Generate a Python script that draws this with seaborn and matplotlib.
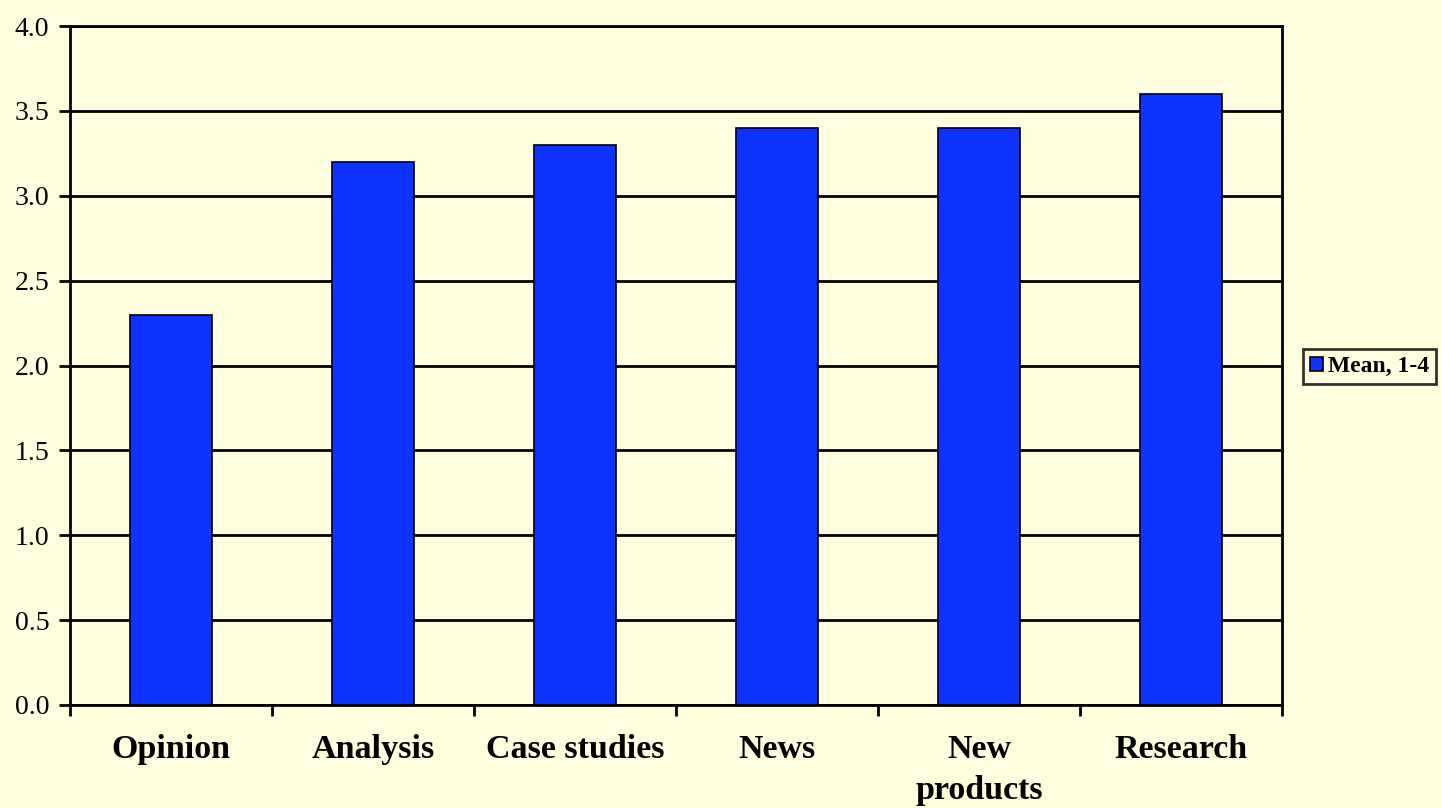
import matplotlib
matplotlib.use("Agg")
import matplotlib.pyplot as plt
import numpy as np
import pandas as pd
import seaborn as sns

categories = ["Opinion", "Analysis", "Case studies", "News", "New\nproducts", "Research"]
means = [2.3, 3.2, 3.3, 3.4, 3.4, 3.6]
series_label = "Mean, 1-4"
y_ticks = [0.0, 0.5, 1.0, 1.5, 2.0, 2.5, 3.0, 3.5, 4.0]

bg = "#FFFFE0"
bar_color = "#0F33FF"

sns.set_theme(style="white")
plt.rcParams["font.family"] = ["Liberation Serif", "DejaVu Serif"]
plt.rcParams["text.color"] = "black"
plt.rcParams["xtick.color"] = "black"
plt.rcParams["ytick.color"] = "black"

df = pd.DataFrame({"category": categories, "mean": means})

fig = plt.figure(figsize=(14.41, 8.08), dpi=100, facecolor=bg)
ax = fig.add_axes([70 / 1441, 1 - 705 / 808, (1282 - 70) / 1441, (705 - 26) / 808])
ax.set_facecolor(bg)

sns.barplot(data=df, x="category", y="mean", color=bar_color, width=0.41,
            edgecolor="black", linewidth=1.2, saturation=1, label=series_label,
            ax=ax, zorder=3)

ax.set_ylim(0, 4.0)
ax.set_xlim(-0.5, len(categories) - 0.5)
ax.set_yticks(y_ticks)
ax.set_yticklabels([f"{v:.1f}" for v in y_ticks], fontsize=20, color="black")
ax.yaxis.grid(True, color="black", linewidth=2, zorder=0)
ax.set_axisbelow(True)

ax.set_xticks(np.arange(len(categories)))
ax.set_xticklabels(categories, fontsize=24.5, fontweight="bold", color="black",
                   linespacing=1.4)
ax.tick_params(axis="x", which="major", bottom=True, length=0, pad=21)
ax.set_xticks(np.arange(-0.5, len(categories) + 0.5, 1.0), minor=True)
ax.tick_params(axis="x", which="minor", bottom=True, length=8, width=2,
               direction="out", color="black")
ax.tick_params(axis="y", left=True, length=8, width=2, direction="out",
               color="black", pad=7)

for sp in ax.spines.values():
    sp.set_color("black")
    sp.set_linewidth(2)

ax.set_xlabel("")
ax.set_ylabel("")

leg = ax.legend(loc="upper left", bbox_to_anchor=(1303 / 1441, 1 - 349 / 808),
                bbox_transform=fig.transFigure, frameon=True, fancybox=False,
                prop={"weight": "bold", "size": 17}, handlelength=0.55, handleheight=0.55,
                handletextpad=0.2, borderpad=0.3, borderaxespad=0)
leg.get_frame().set_edgecolor("black")
leg.get_frame().set_linewidth(2)
leg.get_frame().set_facecolor(bg)
for t in leg.get_texts():
    t.set_color("black")

fig.savefig("out.png", dpi=100, facecolor=bg)
plt.close(fig)
